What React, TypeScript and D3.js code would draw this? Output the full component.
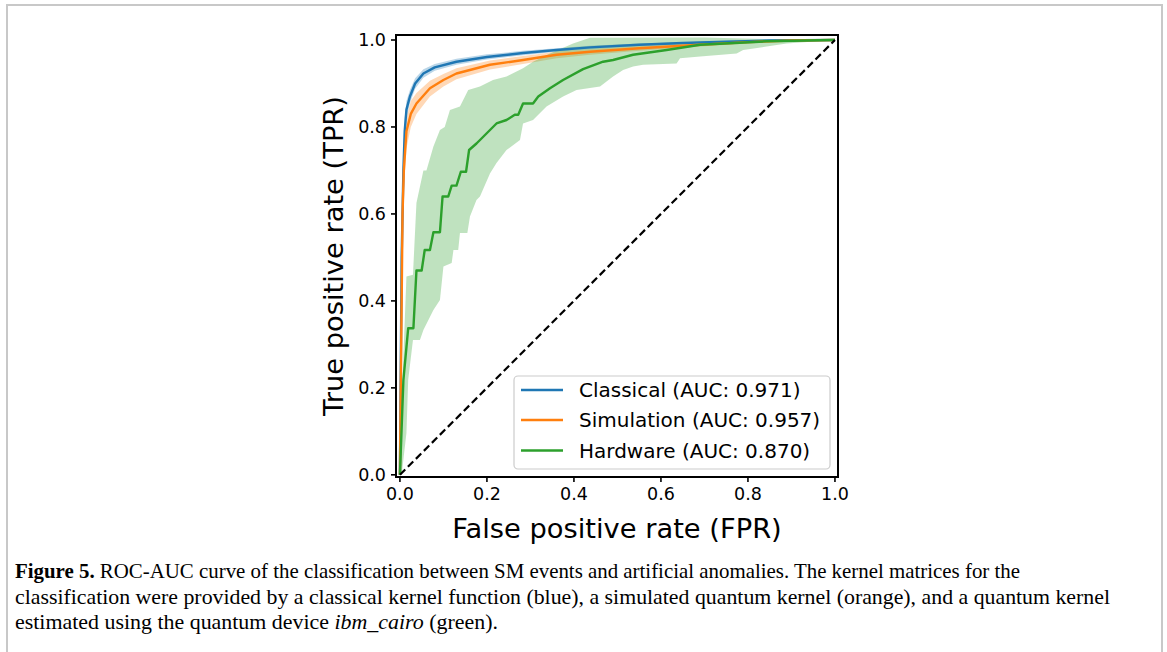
import React from "react";
import * as d3 from "d3";

// ---------- data ----------
const xTicks = [0, 0.2, 0.4, 0.6, 0.8, 1.0];
const yTicks = [0, 0.2, 0.4, 0.6, 0.8, 1.0];

const seriesNames = [
  "Classical (AUC: 0.971)",
  "Simulation (AUC: 0.957)",
  "Hardware (AUC: 0.870)",
];
const seriesColors = ["#1f77b4", "#ff7f0e", "#2ca02c"];

const blueFpr = [0, 0.004, 0.008, 0.011, 0.015, 0.023, 0.035, 0.054, 0.08, 0.13, 0.2, 0.283, 0.36, 0.437, 0.55, 0.65, 0.75, 0.85, 1];
const blueTpr = [0, 0.5, 0.7, 0.79, 0.84, 0.87, 0.9, 0.923, 0.937, 0.95, 0.961, 0.97, 0.977, 0.983, 0.989, 0.993, 0.996, 0.999, 1];
const blueLo = [0, 0.45, 0.66, 0.76, 0.82, 0.855, 0.888, 0.913, 0.929, 0.943, 0.955, 0.965, 0.973, 0.979, 0.986, 0.991, 0.994, 0.998, 1];
const blueHi = [0, 0.55, 0.74, 0.82, 0.86, 0.885, 0.912, 0.933, 0.945, 0.957, 0.967, 0.975, 0.981, 0.987, 0.992, 0.995, 0.998, 1, 1];

const orangeFpr = [0, 0.003, 0.006, 0.009, 0.015, 0.025, 0.038, 0.069, 0.1, 0.13, 0.207, 0.283, 0.36, 0.437, 0.55, 0.69, 0.8, 0.9, 1];
const orangeTpr = [0, 0.3, 0.6, 0.7, 0.79, 0.83, 0.854, 0.889, 0.908, 0.923, 0.943, 0.954, 0.966, 0.973, 0.981, 0.989, 0.995, 0.999, 1];
const orangeLo = [0, 0.25, 0.54, 0.65, 0.75, 0.8, 0.83, 0.87, 0.893, 0.91, 0.932, 0.945, 0.958, 0.966, 0.975, 0.985, 0.992, 0.997, 1];
const orangeHi = [0, 0.35, 0.66, 0.75, 0.82, 0.86, 0.878, 0.906, 0.922, 0.935, 0.953, 0.963, 0.973, 0.979, 0.986, 0.993, 0.998, 1, 1];

const greenMean: [number, number][] = [
  [0, 0], [0.008, 0.218], [0.019, 0.337], [0.031, 0.337], [0.038, 0.47], [0.05, 0.47],
  [0.057, 0.517], [0.069, 0.517], [0.077, 0.558], [0.092, 0.558], [0.098, 0.64],
  [0.111, 0.64], [0.119, 0.665], [0.13, 0.665], [0.14, 0.697], [0.152, 0.697],
  [0.159, 0.747], [0.176, 0.762], [0.199, 0.785], [0.222, 0.808], [0.245, 0.816],
  [0.264, 0.828], [0.272, 0.828], [0.283, 0.854], [0.306, 0.854], [0.318, 0.87],
  [0.345, 0.889], [0.375, 0.908], [0.421, 0.933], [0.467, 0.95], [0.49, 0.954],
  [0.536, 0.966], [0.613, 0.977], [0.69, 0.989], [0.843, 0.997], [0.995, 1.0], [1, 1],
];
const greenLower: [number, number][] = [
  [0, 0], [0.004, 0], [0.015, 0.096], [0.019, 0.218], [0.03, 0.31], [0.046, 0.31],
  [0.054, 0.333], [0.077, 0.379], [0.092, 0.402], [0.1, 0.479], [0.119, 0.487],
  [0.123, 0.517], [0.134, 0.517], [0.138, 0.556], [0.155, 0.556], [0.161, 0.594],
  [0.176, 0.632], [0.184, 0.64], [0.207, 0.693], [0.222, 0.717], [0.245, 0.747],
  [0.276, 0.77], [0.283, 0.808], [0.306, 0.816], [0.337, 0.847], [0.375, 0.87],
  [0.406, 0.885], [0.46, 0.893], [0.49, 0.916], [0.513, 0.931], [0.536, 0.939],
  [0.559, 0.943], [0.636, 0.946], [0.644, 0.958], [0.69, 0.962], [0.774, 0.969],
  [0.789, 0.977], [0.843, 0.985], [0.889, 0.992], [1, 1],
];
const greenUpper: [number, number][] = [
  [0, 0], [0.003, 0.12], [0.006, 0.22], [0.015, 0.456], [0.03, 0.46], [0.038, 0.625],
  [0.054, 0.7], [0.061, 0.7], [0.077, 0.755], [0.092, 0.793], [0.103, 0.8],
  [0.115, 0.839], [0.138, 0.847], [0.157, 0.885], [0.184, 0.893], [0.214, 0.908],
  [0.245, 0.916], [0.283, 0.935], [0.306, 0.95], [0.345, 0.969], [0.398, 0.992],
  [0.437, 1.005], [0.7, 1.006], [0.85, 1.002], [1, 1],
];

const diagonal: [number, number][] = [[0, 0], [1, 1]];

const xLabel = "False positive rate (FPR)";
const yLabel = "True positive rate (TPR)";

const captionLine1Bold = "Figure 5.";
const captionLine1 = " ROC-AUC curve of the classification between SM events and artificial anomalies. The kernel matrices for the";
const captionLine2 = "classification were provided by a classical kernel function (blue), a simulated quantum kernel (orange), and a quantum kernel";
const captionLine3a = "estimated using the quantum device ";
const captionLine3i = "ibm_cairo";
const captionLine3b = " (green).";

// ---------- layout ----------
const W = 1167;
const H = 652;
const plot = { left: 396, right: 838, top: 35, bottom: 477 };
const FONT = "'DejaVu Sans', sans-serif";
const SERIF = "'Liberation Serif', serif";

export default function App() {
  const x = d3.scaleLinear().domain([-0.009, 1.007]).range([plot.left, plot.right]);
  const y = d3.scaleLinear().domain([-0.005, 1.0115]).range([plot.bottom, plot.top]);

  const line = d3.line<[number, number]>().x((d) => x(d[0])).y((d) => y(d[1]));
  const zip = (a: number[], b: number[]) => a.map((v, i) => [v, b[i]] as [number, number]);
  const band = (fpr: number[], lo: number[], hi: number[]) =>
    d3
      .area<number>()
      .x((i) => x(fpr[i]))
      .y0((i) => y(lo[i]))
      .y1((i) => y(hi[i]))(fpr.map((_, i) => i)) || "";
  const polyBand = (lo: [number, number][], hi: [number, number][]) =>
    (line([...hi, ...lo.slice().reverse()]) || "") + "Z";

  const legendY = [390, 420, 450.5];

  return (
    <svg width={W} height={H} style={{ position: "absolute", left: 0, top: 0, background: "#fff" }}>
      {/* page frame */}
      <path d={`M7,${H} L7,5 L1162,5 L1162,${H}`} fill="none" stroke="#c8c8c8" strokeWidth={2} />

      <defs>
        <clipPath id="plotclip">
          <rect x={plot.left} y={plot.top} width={plot.right - plot.left} height={plot.bottom - plot.top} />
        </clipPath>
      </defs>

      <g clipPath="url(#plotclip)">
        <path d={band(blueFpr, blueLo, blueHi)} fill={seriesColors[0]} fillOpacity={0.3} />
        <path d={band(orangeFpr, orangeLo, orangeHi)} fill={seriesColors[1]} fillOpacity={0.3} />
        <path d={polyBand(greenLower, greenUpper)} fill={seriesColors[2]} fillOpacity={0.3} />
        <path d={line(zip(blueFpr, blueTpr)) || ""} fill="none" stroke={seriesColors[0]} strokeWidth={2.4} strokeLinejoin="round" />
        <path d={line(zip(orangeFpr, orangeTpr)) || ""} fill="none" stroke={seriesColors[1]} strokeWidth={2.4} strokeLinejoin="round" />
        <path d={line(greenMean) || ""} fill="none" stroke={seriesColors[2]} strokeWidth={2.4} strokeLinejoin="round" />
        <path d={line(diagonal) || ""} fill="none" stroke="#000" strokeWidth={2.2} strokeDasharray="7.5,3.8" />
      </g>

      {/* spines */}
      <rect x={plot.left} y={plot.top} width={plot.right - plot.left} height={plot.bottom - plot.top} fill="none" stroke="#000" strokeWidth={2} />

      {/* x ticks */}
      {xTicks.map((t) => (
        <g key={"x" + t}>
          <line x1={x(t)} x2={x(t)} y1={plot.bottom} y2={plot.bottom + 5} stroke="#000" strokeWidth={1.6} />
          <text x={x(t)} y={plot.bottom + 23} textAnchor="middle" fontFamily={FONT} fontSize={17.5} fill="#000">
            {t.toFixed(1)}
          </text>
        </g>
      ))}
      {/* y ticks */}
      {yTicks.map((t) => (
        <g key={"y" + t}>
          <line x1={plot.left - 5} x2={plot.left} y1={y(t)} y2={y(t)} stroke="#000" strokeWidth={1.6} />
          <text x={plot.left - 10} y={y(t)} dy="0.35em" textAnchor="end" fontFamily={FONT} fontSize={17.5} fill="#000">
            {t.toFixed(1)}
          </text>
        </g>
      ))}

      {/* axis labels */}
      <text x={(plot.left + plot.right) / 2} y={538} textAnchor="middle" fontFamily={FONT} fontSize={27.3} fill="#000">
        {xLabel}
      </text>
      <text
        transform={`translate(343,${(plot.top + plot.bottom) / 2}) rotate(-90)`}
        textAnchor="middle"
        fontFamily={FONT}
        fontSize={27.3}
        fill="#000"
      >
        {yLabel}
      </text>

      {/* legend */}
      <rect x={514} y={376} width={316} height={93} rx={4} ry={4} fill="#fff" fillOpacity={0.8} stroke="#cccccc" strokeWidth={1.2} />
      {seriesNames.map((name, i) => (
        <g key={name}>
          <line x1={521} x2={563} y1={legendY[i]} y2={legendY[i]} stroke={seriesColors[i]} strokeWidth={2.4} />
          <text x={579} y={legendY[i]} dy="0.36em" fontFamily={FONT} fontSize={20} fill="#000">
            {name}
          </text>
        </g>
      ))}

      {/* caption */}
      <g fontFamily={SERIF} fontSize={21} fill="#000">
        <text x={15} y={578} textLength={1005} lengthAdjust="spacingAndGlyphs">
          <tspan fontWeight="bold">{captionLine1Bold}</tspan>
          {captionLine1}
        </text>
        <text x={15} y={603.5} textLength={1095} lengthAdjust="spacingAndGlyphs">
          {captionLine2}
        </text>
        <text x={15} y={629} textLength={483} lengthAdjust="spacingAndGlyphs">
          {captionLine3a}
          <tspan fontStyle="italic">{captionLine3i}</tspan>
          {captionLine3b}
        </text>
      </g>
    </svg>
  );
}
